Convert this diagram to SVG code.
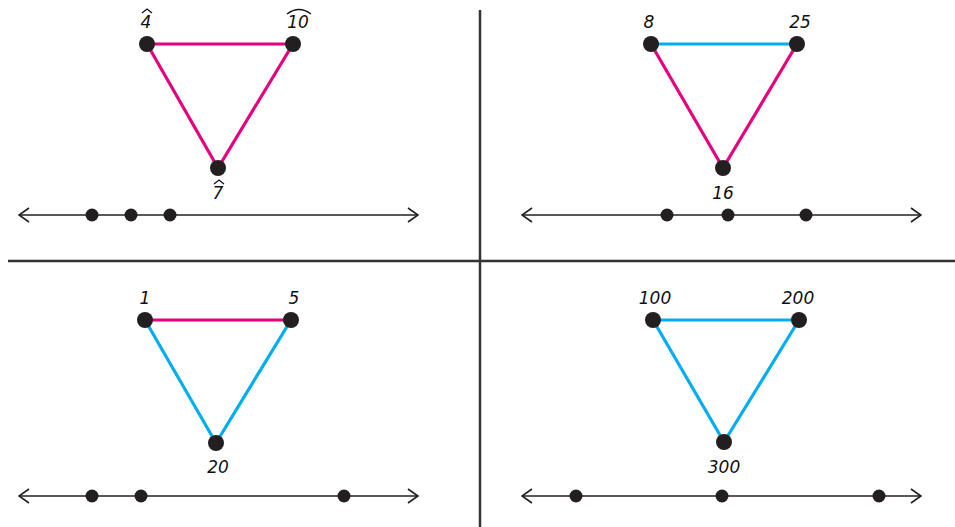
<svg xmlns="http://www.w3.org/2000/svg" width="955" height="527" viewBox="0 0 955 527">
<style>
.pink{stroke:#e6007e;stroke-width:3.2;fill:none;stroke-linecap:round}
.blue{stroke:#00aeef;stroke-width:3.2;fill:none;stroke-linecap:round}
.v{fill:#231f20}
.nl{stroke:#231f20;stroke-width:1.6;fill:none}
.div{stroke:#333;stroke-width:2.5}
.lbl{font-family:"DejaVu Sans","Liberation Sans",sans-serif;font-style:italic;font-size:17px;fill:#111;text-anchor:middle}
.hat{stroke:#111;stroke-width:1.3;fill:none}
</style>
<defs>
<marker id="arr" viewBox="0 0 12 16" refX="11" refY="8" markerWidth="12" markerHeight="16" markerUnits="userSpaceOnUse" orient="auto-start-reverse">
<path d="M1,1 L11,8 L1,15" fill="none" stroke="#231f20" stroke-width="1.6"/>
</marker>
</defs>
<g id="dividers">
<line class="div" x1="480" y1="10" x2="480" y2="527"/>
<line class="div" x1="8" y1="261" x2="955" y2="261"/>
</g>
<g id="connectors">
<path class="pink" d="M147,44 L293,44"/>
<path class="pink" d="M147,44 L218,168"/>
<path class="pink" d="M293,44 L218,168"/>
<path class="blue" d="M651,44 L797,44"/>
<path class="pink" d="M651,44 L723,168"/>
<path class="pink" d="M797,44 L723,168"/>
<path class="pink" d="M145,320 L291,320"/>
<path class="blue" d="M145,320 L216,443"/>
<path class="blue" d="M291,320 L216,443"/>
<path class="blue" d="M653,320 L799,320"/>
<path class="blue" d="M653,320 L724,442"/>
<path class="blue" d="M799,320 L724,442"/>
</g>
<g id="tl">
<g id="n4"><circle class="v" cx="147" cy="44" r="8"/><text class="lbl" x="146" y="28">4</text><path class="hat" d="M142,13 L147,9 L152,13"/></g>
<g id="n10"><circle class="v" cx="293" cy="44" r="8"/><text class="lbl" x="298" y="28">10</text><path class="hat" d="M287,14 Q299,5 311,14"/></g>
<g id="n7"><circle class="v" cx="218" cy="168" r="8"/><text class="lbl" x="218" y="199">7</text><path class="hat" d="M214,184 L219,180 L224,184"/></g>
<g id="tl-line"><line class="nl" x1="19" y1="215" x2="418" y2="215" marker-start="url(#arr)" marker-end="url(#arr)"/><circle class="v" cx="92" cy="215" r="6.5"/><circle class="v" cx="131" cy="215" r="6.5"/><circle class="v" cx="170" cy="215" r="6.5"/></g>
</g>
<g id="tr">
<g id="n8"><circle class="v" cx="651" cy="44" r="8"/><text class="lbl" x="649" y="28">8</text></g>
<g id="n25"><circle class="v" cx="797" cy="44" r="8"/><text class="lbl" x="800" y="28">25</text></g>
<g id="n16"><circle class="v" cx="723" cy="168" r="8"/><text class="lbl" x="723" y="199">16</text></g>
<g id="tr-line"><line class="nl" x1="522" y1="215" x2="921" y2="215" marker-start="url(#arr)" marker-end="url(#arr)"/><circle class="v" cx="667" cy="215" r="6.5"/><circle class="v" cx="728" cy="215" r="6.5"/><circle class="v" cx="806" cy="215" r="6.5"/></g>
</g>
<g id="bl">
<g id="n1"><circle class="v" cx="145" cy="320" r="8"/><text class="lbl" x="145" y="304">1</text></g>
<g id="n5"><circle class="v" cx="291" cy="320" r="8"/><text class="lbl" x="294" y="304">5</text></g>
<g id="n20"><circle class="v" cx="216" cy="443" r="8"/><text class="lbl" x="218" y="473">20</text></g>
<g id="bl-line"><line class="nl" x1="19" y1="496" x2="418" y2="496" marker-start="url(#arr)" marker-end="url(#arr)"/><circle class="v" cx="92" cy="496" r="6.5"/><circle class="v" cx="141" cy="496" r="6.5"/><circle class="v" cx="344" cy="496" r="6.5"/></g>
</g>
<g id="br">
<g id="n100"><circle class="v" cx="653" cy="320" r="8"/><text class="lbl" x="655" y="304">100</text></g>
<g id="n200"><circle class="v" cx="799" cy="320" r="8"/><text class="lbl" x="798" y="304">200</text></g>
<g id="n300"><circle class="v" cx="724" cy="442" r="8"/><text class="lbl" x="724" y="473">300</text></g>
<g id="br-line"><line class="nl" x1="522" y1="496" x2="921" y2="496" marker-start="url(#arr)" marker-end="url(#arr)"/><circle class="v" cx="576" cy="496" r="6.5"/><circle class="v" cx="722" cy="496" r="6.5"/><circle class="v" cx="879" cy="496" r="6.5"/></g>
</g>
</svg>
